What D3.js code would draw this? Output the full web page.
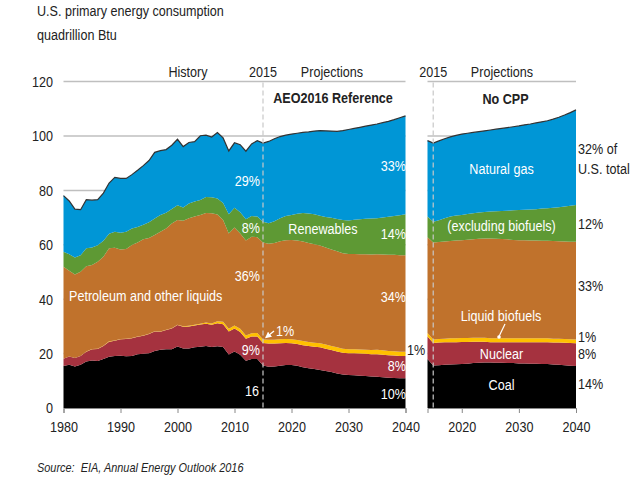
<!DOCTYPE html>
<html><head><meta charset="utf-8">
<script src="https://cdn.jsdelivr.net/npm/d3@7"></script>
<style>
body{margin:0;background:#fff}
text{font-family:"Liberation Sans",Arial,sans-serif}
</style></head><body>
<svg id="c" width="640" height="494"></svg>
<script>
// ---------- DATA (quadrillion Btu) ----------
const histYears = d3.range(1980, 2016);
const coalHist = [15.4,15.9,15.3,15.9,17.1,17.5,17.3,18.0,18.8,19.1,19.2,19.0,19.1,19.8,19.9,20.1,21.0,21.4,21.6,21.6,22.6,21.9,21.9,22.3,22.5,22.8,22.4,22.7,22.4,19.7,20.8,19.6,17.4,18.0,18.0,15.6];
const nuclearHist = [2.7,3.0,3.1,3.2,3.6,4.1,4.4,4.8,5.6,5.6,6.1,6.4,6.5,6.4,6.7,7.1,7.1,6.6,7.1,7.6,7.9,8.0,8.1,8.0,8.2,8.2,8.2,8.5,8.4,8.4,8.4,8.3,8.1,8.3,8.3,8.3];
const biofuelHist = [0.0,0.0,0.0,0.0,0.1,0.1,0.1,0.1,0.1,0.1,0.1,0.1,0.1,0.1,0.1,0.1,0.1,0.1,0.1,0.1,0.1,0.2,0.2,0.3,0.3,0.4,0.5,0.7,0.9,1.0,1.1,1.2,1.2,1.2,1.3,1.3];
const petroleumHist = [33.8,31.6,30.7,31.0,31.3,30.9,32.0,32.7,34.2,34.1,32.9,33.0,34.2,34.5,35.3,35.2,35.4,36.7,37.2,38.5,38.5,38.7,39.6,39.8,40.0,40.3,40.5,39.2,37.4,35.1,36.1,35.1,34.9,35.5,35.2,35.6];
const renewHist = [5.5,6.0,6.2,6.1,6.6,6.4,6.0,5.9,5.4,5.9,6.1,6.3,6.1,5.7,5.4,5.8,6.1,6.2,5.8,5.4,5.4,4.9,5.4,5.5,5.5,5.9,5.9,5.9,6.3,7.0,7.2,7.8,7.8,7.6,7.6,7.7];
const gasHist = [20.7,19.6,17.8,16.7,17.9,17.4,16.8,17.5,18.6,20.0,20.0,19.6,19.8,20.9,21.7,22.7,24.3,23.6,23.2,23.4,24.3,22.4,22.4,22.0,23.6,22.7,22.1,24.3,23.9,23.3,23.9,24.8,25.0,26.5,27.9,28.9];

const refYears = d3.range(2016, 2041);
const coalRef = [15.2,15.3,15.5,15.8,15.8,15.5,15.0,14.6,14.3,14.0,13.6,13.2,12.7,12.3,12.1,12.0,11.9,11.8,11.6,11.5,11.3,11.1,11.0,10.9,10.9];
const nuclearRef = [8.5,8.4,8.3,8.1,8.0,8.0,8.1,8.2,8.2,8.3,8.2,8.1,8.1,8.0,8.0,8.1,8.1,8.1,8.2,8.3,8.3,8.3,8.3,8.2,8.2];
const biofuelRef = [1.4,1.4,1.5,1.5,1.5,1.5,1.5,1.5,1.5,1.5,1.5,1.5,1.5,1.5,1.5,1.5,1.5,1.5,1.5,1.6,1.6,1.6,1.6,1.6,1.6];
const petroleumRef = [35.3,35.6,36.0,36.3,36.5,36.6,36.6,36.4,36.2,35.9,35.7,35.5,35.3,35.1,35.0,35.0,35.0,35.1,35.1,35.1,35.2,35.3,35.4,35.5,35.5];
const renewRef = [7.5,8.0,8.5,8.9,9.2,9.8,10.5,10.8,11.0,11.0,11.2,11.6,11.9,12.2,12.3,12.6,12.9,13.1,13.3,13.3,13.6,14.0,14.3,14.7,15.0];
const gasRef = [30.1,30.3,30.0,29.7,29.7,29.6,29.6,30.0,30.6,31.3,31.7,31.9,32.2,32.9,33.5,33.6,33.8,34.0,34.3,34.6,34.9,35.1,35.4,35.8,36.2];

const noCppYears = d3.range(2014, 2041);
const coalNoCpp = [18.0,15.6,15.7,15.9,16.0,16.1,16.2,16.3,16.5,16.6,16.7,16.7,16.6,16.6,16.5,16.5,16.4,16.4,16.3,16.3,16.2,16.2,16.0,15.9,15.7,15.5,15.4];
const nuclearNoCpp = [8.3,8.3,8.4,8.3,8.2,8.1,8.1,8.0,7.9,7.8,7.7,7.5,7.6,7.6,7.7,7.7,7.8,7.8,7.9,7.9,8.0,8.0,8.1,8.2,8.3,8.4,8.4];
const biofuelNoCpp = [1.3,1.3,1.3,1.3,1.4,1.4,1.4,1.4,1.4,1.4,1.4,1.4,1.4,1.4,1.4,1.4,1.4,1.4,1.4,1.4,1.4,1.4,1.4,1.4,1.4,1.4,1.4];
const petroleumNoCpp = [35.2,35.6,35.6,35.7,35.8,36.0,36.0,36.2,36.2,36.4,36.5,36.7,36.6,36.5,36.4,36.2,36.1,36.1,36.0,36.0,35.9,35.9,35.9,35.8,35.8,35.8,35.9];
const renewNoCpp = [7.6,7.7,8.0,8.6,9.0,9.2,9.3,9.4,9.6,9.7,9.8,9.9,10.1,10.3,10.5,10.9,11.1,11.2,11.4,11.5,11.8,11.9,12.2,12.5,12.9,13.3,13.5];
const gasNoCpp = [27.9,28.9,29.2,29.2,29.3,29.4,29.7,29.7,29.7,29.7,29.8,30.0,30.2,30.4,30.6,30.7,30.9,31.2,31.4,31.7,31.9,32.2,32.6,33.1,33.6,34.2,35.0];

const yTicks = [0,20,40,60,80,100,120];
const xTicksLeft = [1980,1990,2000,2010,2020,2030,2040];
const xTicksRight = [2020,2030,2040];

const keys = ["coal","nuclear","biofuel","petroleum","renew","gas"];
const colors = {coal:"#000000", nuclear:"#a5323f", biofuel:"#ffc000", petroleum:"#c0722c", renew:"#5e9934", gas:"#0096d6"};

function rows(years, c, n, b, p, r, g){
  return years.map((yr,i)=>({year:yr, coal:c[i], nuclear:n[i], biofuel:b[i], petroleum:p[i], renew:r[i], gas:g[i]}));
}
const leftData = rows(histYears, coalHist, nuclearHist, biofuelHist, petroleumHist, renewHist, gasHist)
  .concat(rows(refYears, coalRef, nuclearRef, biofuelRef, petroleumRef, renewRef, gasRef));
const rightData = rows(noCppYears, coalNoCpp, nuclearNoCpp, biofuelNoCpp, petroleumNoCpp, renewNoCpp, gasNoCpp);

// ---------- SCALES ----------
const SX = 0.84; // narrow-face emulation
const svg = d3.select("#c");
const y = d3.scaleLinear().domain([0,120]).range([408,81.6]);
const xL = d3.scaleLinear().domain([1980,2040]).range([63.5,405.5]);
const xR = d3.scaleLinear().domain([2014,2040]).range([427.5,576]);
const stack = d3.stack().keys(keys);
const grid = "#bfbfbf";

function panel(data, x, ticks){
  const g = svg.append("g");
  g.selectAll("line.grid").data(yTicks.filter(d=>d>0)).join("line")
    .attr("x1", x.range()[0]).attr("x2", x.range()[1])
    .attr("y1", d=>y(d)).attr("y2", d=>y(d))
    .attr("stroke", grid).attr("stroke-width", 1.5);
  const series = stack(data);
  const area = d3.area().x(d=>x(d.data.year)).y0(d=>y(d[0])).y1(d=>y(d[1]));
  g.selectAll("path.layer").data(series).join("path")
    .attr("fill", d=>colors[d.key]).attr("d", area);
  const top = d3.line().x(d=>x(d.data.year)).y(d=>y(d[1]));
  g.append("path").attr("d", top(series[series.length-1]))
    .attr("fill","none").attr("stroke","#333").attr("stroke-width",1.2);
  g.append("line").attr("x1", x(2015)).attr("x2", x(2015))
    .attr("y1", y(120)+1).attr("y2", y(0))
    .attr("stroke","#c8c8c8").attr("stroke-width",1.2).attr("stroke-dasharray","5,3");
  const ax = g.append("g").attr("transform",`translate(0,${y(0)})`)
    .call(d3.axisBottom(x).tickValues(ticks).tickFormat(d3.format("d")).tickSizeInner(5).tickSizeOuter(5).tickPadding(8.5));
  ax.select(".domain").attr("stroke","#888");
  ax.selectAll(".tick line").attr("stroke","#888");
  ax.selectAll(".tick text").attr("font-size","15px").attr("fill","#222")
    .attr("transform",`scale(${SX},1)`)
    .style("font-family",'"Liberation Sans",Arial,sans-serif');
  return g;
}
panel(leftData, xL, xTicksLeft);
panel(rightData, xR, xTicksRight);

// y tick labels
svg.append("g").selectAll("text").data(yTicks).join("text")
  .attr("transform", d=>`translate(53,${y(d)}) scale(${SX},1)`)
  .attr("dy","0.36em").attr("text-anchor","end")
  .attr("font-size","15px").attr("fill","#222").text(d=>d);

// ---------- TEXT ----------
function t(x, yy, s, o={}){
  const el = svg.append("text")
    .attr("transform",`translate(${x},${yy}) scale(${o.sx||SX},1)`).text(s)
    .attr("font-size", o.size||"15px").attr("fill", o.fill||"#222")
    .attr("text-anchor", o.anchor||"start");
  if(o.bold) el.attr("font-weight","bold");
  if(o.italic) el.attr("font-style","italic");
  return el;
}
t(37, 16, "U.S. primary energy consumption");
t(37, 40, "quadrillion Btu");
t(188, 76.5, "History", {anchor:"middle"});
t(xL(2015), 77, "2015", {anchor:"middle"});
t(332, 76.5, "Projections", {anchor:"middle"});
t(333, 102.5, "AEO2016 Reference", {anchor:"middle", bold:true});
t(xR(2015), 77, "2015", {anchor:"middle"});
t(502, 76.5, "Projections", {anchor:"middle"});
t(505.5, 103.5, "No CPP", {anchor:"middle", bold:true});

const W = "#ffffff";
t(260, 186, "29%", {fill:W, anchor:"end"});
t(260, 233, "8%", {fill:W, anchor:"end"});
t(323, 234, "Renewables", {fill:W, anchor:"middle"});
t(406, 171, "33%", {fill:W, anchor:"end"});
t(406, 239, "14%", {fill:W, anchor:"end"});
t(260, 281, "36%", {fill:W, anchor:"end"});
t(69, 301, "Petroleum and other liquids", {fill:W});
t(406, 302, "34%", {fill:W, anchor:"end"});
t(276, 336, "1%", {fill:W});
t(260, 354.5, "9%", {fill:W, anchor:"end"});
t(259, 395.5, "16", {fill:W, anchor:"end"});
t(406, 371, "8%", {fill:W, anchor:"end"});
t(406, 398.5, "10%", {fill:W, anchor:"end"});
t(407, 354.5, "1%");

svg.append("defs").append("marker").attr("id","ah").attr("viewBox","0 0 10 10")
  .attr("refX",8).attr("refY",5).attr("markerWidth",5).attr("markerHeight",5).attr("orient","auto")
  .append("path").attr("d","M0,0L10,5L0,10z").attr("fill",W);
svg.append("line").attr("x1",274).attr("y1",331).attr("x2",266).attr("y2",337.5)
  .attr("stroke",W).attr("stroke-width",1.3).attr("marker-end","url(#ah)");

t(501.5, 174, "Natural gas", {fill:W, anchor:"middle"});
t(501.5, 231, "(excluding biofuels)", {fill:W, anchor:"middle"});
t(501, 320.5, "Liquid biofuels", {fill:W, anchor:"middle"});
t(501.5, 358.5, "Nuclear", {fill:W, anchor:"middle"});
t(501.5, 389.5, "Coal", {fill:W, anchor:"middle"});
svg.append("line").attr("x1",505).attr("y1",324).attr("x2",499).attr("y2",336.5)
  .attr("stroke",W).attr("stroke-width",1.2);
svg.append("circle").attr("cx",499).attr("cy",337).attr("r",1.8).attr("fill",W);

t(578, 154, "32% of");
t(578, 174, "U.S. total");
t(578, 229, "12%");
t(578, 291, "33%");
t(578, 342, "1%");
t(578, 359, "8%");
t(578, 389, "14%");

t(37, 472, "Source:\u00a0 EIA, Annual Energy Outlook 2016", {italic:true, size:"13px"});
</script>
</body></html>
